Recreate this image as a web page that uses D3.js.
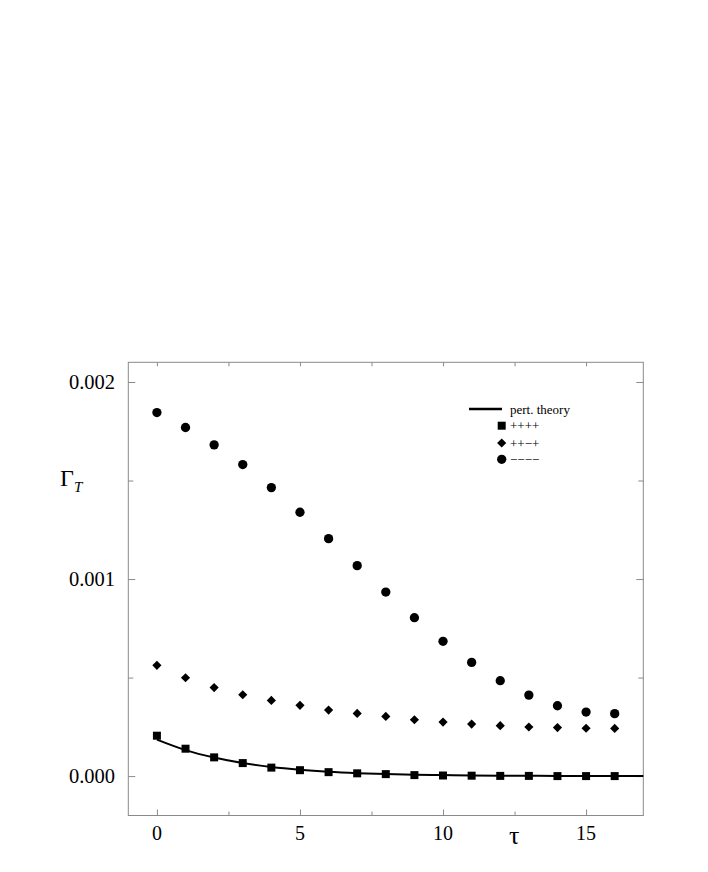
<!DOCTYPE html>
<html>
<head>
<meta charset="utf-8">
<script src="https://cdn.jsdelivr.net/npm/d3@7/dist/d3.min.js"></script>
<style>
body{margin:0;background:#fff;}
text{font-family:"Liberation Serif","DejaVu Serif",serif;fill:#000;}
</style>
</head>
<body>
<div id="chart"></div>
<script>
// tau values, and Gamma_T (in units of 1e-3)
var tau=[0,1,2,3,4,5,6,7,8,9,10,11,12,13,14,15,16];
var minusAll=[1.845,1.769,1.681,1.581,1.464,1.339,1.205,1.068,0.934,0.804,0.684,0.577,0.484,0.411,0.357,0.325,0.317];
var plusPlusMinusPlus=[0.562,0.499,0.449,0.413,0.384,0.359,0.335,0.318,0.303,0.286,0.274,0.264,0.256,0.249,0.246,0.243,0.242];
var plusAll=[0.205,0.139,0.095,0.066,0.043,0.030,0.020,0.014,0.010,0.005,0.003,0.002,0.001,0.001,0,0,0];
var pertTau=[0,1,2,3,4,5,6,7,8,9,10,11,12,13,14,15,16,17];
var pertTheory=[0.185,0.132,0.094,0.066,0.046,0.032,0.022,0.015,0.010,0.007,0.005,0.003,0.002,0.0015,0.001,0.0007,0.0005,0.0003];
var xMajor=[0,5,10,15], xMinor=[2.5,7.5,12.5];
var yMajor=[0,0.001,0.002], yMinor=[0.0005,0.0015];
var legendLabels=["pert. theory","++++","++\u2212+","\u2212\u2212\u2212\u2212"];

var W=708,H=872;
var pLeft=128.3,pRight=643.3,pTop=362.3,pBottom=815.5;
var frameColor='#8a8a8a';

var svg=d3.select('#chart').append('svg').attr('width',W).attr('height',H);

var x=d3.scaleLinear().domain([-1,17]).range([pLeft,pRight]);
var y=d3.scaleLinear().domain([-0.0002,0.0021]).range([pBottom,pTop]);

// frame
svg.append('rect').attr('x',pLeft).attr('y',pTop)
	.attr('width',pRight-pLeft).attr('height',pBottom-pTop)
	.attr('fill','none').attr('stroke',frameColor).attr('stroke-width',1);

function tickAxis(axis,tx,ty){
	var g=svg.append('g').attr('transform','translate('+tx+','+ty+')');
	g.call(axis);
	g.select('.domain').remove();
	g.selectAll('.tick line').attr('stroke',frameColor);
	g.selectAll('.tick text').remove();
}
// inward ticks on all four sides
tickAxis(d3.axisBottom(x).tickValues(xMajor).tickSize(-6),0,pBottom);
tickAxis(d3.axisBottom(x).tickValues(xMinor).tickSize(-4),0,pBottom);
tickAxis(d3.axisTop(x).tickValues(xMajor.concat(xMinor)).tickSize(-4),0,pTop);
tickAxis(d3.axisLeft(y).tickValues(yMajor).tickSize(-7),pLeft,0);
tickAxis(d3.axisLeft(y).tickValues(yMinor).tickSize(-5),pLeft,0);
tickAxis(d3.axisRight(y).tickValues(yMajor).tickSize(-7),pRight,0);
tickAxis(d3.axisRight(y).tickValues(yMinor).tickSize(-5),pRight,0);

// tick labels
svg.selectAll('text.xl').data(xMajor).enter().append('text').attr('class','xl')
	.attr('x',function(d){return x(d);}).attr('y',840)
	.attr('text-anchor','middle').style('font-size','20px')
	.text(function(d){return d;});
svg.selectAll('text.yl').data(yMajor).enter().append('text').attr('class','yl')
	.attr('x',115).attr('y',function(d){return y(d)+6.5;})
	.attr('text-anchor','end').style('font-size','20.5px')
	.text(d3.format('.3f'));

// axis titles
svg.append('text').attr('x',509).attr('y',844).style('font-size','26px').text('\u03c4');
var yt=svg.append('text').attr('x',60).attr('y',486).style('font-size','24px');
yt.append('tspan').text('\u0393');
yt.append('tspan').attr('dy',6).style('font-size','15px').style('font-style','italic').text('T');

var plot=svg.append('g');

// perturbation theory curve
var line=d3.line().x(function(d,i){return x(pertTau[i]);}).y(function(d){return y(d*1e-3);})
	.curve(d3.curveMonotoneX);
plot.append('path').datum(pertTheory).attr('d',line)
	.attr('fill','none').attr('stroke','#000').attr('stroke-width',2);

var sq=d3.symbol().type(d3.symbolSquare).size(64);
var dm=d3.symbol().type(d3.symbolSquare).size(42);
var ci=d3.symbol().type(d3.symbolCircle).size(68);

plot.selectAll('path.sq').data(plusAll).enter().append('path').attr('class','sq')
	.attr('d',sq).attr('transform',function(d,i){return 'translate('+x(tau[i])+','+y(d*1e-3)+')';});
plot.selectAll('path.dm').data(plusPlusMinusPlus).enter().append('path').attr('class','dm')
	.attr('d',dm).attr('transform',function(d,i){return 'translate('+x(tau[i])+','+y(d*1e-3)+') rotate(45)';});
plot.selectAll('path.ci').data(minusAll).enter().append('path').attr('class','ci')
	.attr('d',ci).attr('transform',function(d,i){return 'translate('+x(tau[i])+','+y(d*1e-3)+')';});

// legend
var lg=svg.append('g');
var rows=[409,425.7,443,459.3];
lg.append('line').attr('x1',469).attr('x2',502).attr('y1',rows[0]).attr('y2',rows[0])
	.attr('stroke','#000').attr('stroke-width',2.5);
lg.append('path').attr('d',sq).attr('transform','translate(501.7,'+rows[1]+')');
lg.append('path').attr('d',dm).attr('transform','translate(501.7,'+rows[2]+') rotate(45)');
lg.append('path').attr('d',ci).attr('transform','translate(501.7,'+rows[3]+')');
lg.selectAll('text').data(legendLabels).enter().append('text')
	.attr('x',510).attr('y',function(d,i){return rows[i]+4.5;})
	.style('font-size','13px').text(function(d){return d;});
</script>
</body>
</html>
